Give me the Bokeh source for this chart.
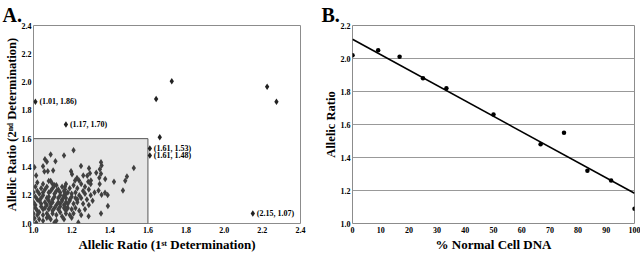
from bokeh.plotting import figure
from bokeh.layouts import row
from bokeh.models import PrintfTickFormatter, FixedTicker, ColumnDataSource, Title
from bokeh.embed import file_html
from bokeh.resources import INLINE
from bokeh.core.properties import value
import numpy as np

# ---------------- Panel A data ----------------
cluster_x = [1.06, 1.07, 1.115, 1.05, 1.005, 1.014, 1.057, 1.075, 1.103, 1.197, 1.202, 1.249, 1.291,
             1.354, 1.357, 1.348, 1.329, 1.296, 1.282, 1.261, 1.239, 1.218, 1.228, 1.301, 1.287, 1.354,
             1.345, 1.376, 1.422, 1.49, 1.481, 1.526, 1.469, 1.354, 1.39, 1.289, 1.235, 1.11, 1.005,
             1.014, 1.347, 1.341, 1.375, 1.357, 1.389, 1.21, 1.16, 1.09,
             1.02, 1.05, 1.09, 1.12, 1.17, 1.21, 1.25, 1.27, 1.30,
             1.01, 1.04, 1.07, 1.10, 1.13, 1.15, 1.19, 1.23, 1.26, 1.29,
             1.00, 1.02, 1.03, 1.05, 1.06, 1.08, 1.09, 1.11, 1.12, 1.14, 1.16, 1.17, 1.18, 1.20, 1.22,
             1.24, 1.27, 1.30, 1.32,
             1.01, 1.02, 1.04, 1.05, 1.07, 1.08, 1.10, 1.11, 1.13, 1.14, 1.15, 1.16, 1.17, 1.19, 1.20,
             1.22, 1.23, 1.25, 1.28, 1.31,
             1.00, 1.01, 1.03, 1.04, 1.06, 1.07, 1.08, 1.09, 1.10, 1.12, 1.13, 1.14, 1.15, 1.16, 1.17,
             1.18, 1.19, 1.21, 1.23, 1.26, 1.29,
             1.01, 1.02, 1.04, 1.05, 1.06, 1.08, 1.09, 1.10, 1.11, 1.13, 1.14, 1.16, 1.17, 1.18, 1.20,
             1.22, 1.24, 1.27,
             1.00, 1.02, 1.03, 1.05, 1.07, 1.08, 1.10, 1.12, 1.14, 1.15, 1.17, 1.19, 1.21, 1.25,
             1.03, 1.05, 1.07, 1.09, 1.12, 1.16, 1.20,
             1.165, 1.165, 1.16, 1.165, 1.17, 1.08, 1.10, 1.11]
cluster_y = [1.454, 1.436, 1.44, 1.405, 1.398, 1.34, 1.368, 1.37, 1.375, 1.37, 1.349, 1.407, 1.391,
             1.433, 1.41, 1.384, 1.358, 1.356, 1.337, 1.34, 1.304, 1.304, 1.321, 1.304, 1.295, 1.351,
             1.323, 1.314, 1.295, 1.333, 1.302, 1.393, 1.234, 1.07, 1.124, 1.052, 1.007, 1.007, 1.037,
             1.005, 1.279, 1.234, 1.218, 1.204, 1.201, 1.518, 1.48, 1.487,
             1.29, 1.28, 1.30, 1.27, 1.28, 1.27, 1.28, 1.26, 1.28,
             1.26, 1.25, 1.26, 1.25, 1.24, 1.26, 1.25, 1.25, 1.23, 1.24,
             1.22, 1.23, 1.21, 1.22, 1.24, 1.22, 1.23, 1.21, 1.23, 1.22, 1.23, 1.21, 1.22, 1.21, 1.22,
             1.20, 1.21, 1.20, 1.22,
             1.19, 1.17, 1.18, 1.20, 1.18, 1.19, 1.17, 1.19, 1.18, 1.20, 1.17, 1.19, 1.18, 1.17, 1.19,
             1.18, 1.17, 1.18, 1.17, 1.16,
             1.15, 1.13, 1.16, 1.14, 1.15, 1.13, 1.16, 1.14, 1.15, 1.13, 1.15, 1.14, 1.16, 1.13, 1.15,
             1.14, 1.16, 1.14, 1.15, 1.14, 1.13,
             1.11, 1.09, 1.12, 1.10, 1.11, 1.10, 1.12, 1.09, 1.11, 1.10, 1.12, 1.11, 1.09, 1.11, 1.10,
             1.11, 1.09, 1.10,
             1.07, 1.06, 1.08, 1.06, 1.07, 1.05, 1.07, 1.06, 1.08, 1.05, 1.07, 1.06, 1.07, 1.06,
             1.03, 1.02, 1.04, 1.03, 1.02, 1.03, 1.04,
             1.26, 1.24, 1.20, 1.12, 1.10, 1.30, 1.28, 1.27]

outlier_x = [1.01, 1.17, 1.643, 1.725, 1.662, 1.61, 1.61, 2.225, 2.274, 2.15]
outlier_y = [1.86, 1.70, 1.88, 2.005, 1.609, 1.53, 1.48, 1.967, 1.86, 1.07]

labeled_x = [1.01, 1.17, 1.61, 1.61, 2.15]
labeled_y = [1.86, 1.70, 1.53, 1.48, 1.07]

box_range = [1.0, 1.6]
ticks_a = [1.0, 1.2, 1.4, 1.6, 1.8, 2.0, 2.2, 2.4]

# ---------------- Panel B data ----------------
normal_pct = [0, 9.1, 16.7, 25, 33.3, 50, 66.7, 75, 83.3, 91.7, 100]
ratio_b = [2.02, 2.05, 2.01, 1.88, 1.82, 1.66, 1.48, 1.55, 1.32, 1.26, 1.09]
ticks_bx = [0, 10, 20, 30, 40, 50, 60, 70, 80, 90, 100]
ticks_by = [1.0, 1.2, 1.4, 1.6, 1.8, 2.0, 2.2]

SERIF = "Liberation Serif"
GRAY = "#8c8c8c"


def style(p, xt, yt, xlab, ylab, letter):
    p.outline_line_color = GRAY
    p.outline_line_width = 1
    for ax in (p.xaxis[0], p.yaxis[0]):
        ax.axis_line_color = None
        ax.major_tick_line_color = None
        ax.minor_tick_line_color = None
        ax.major_tick_out = 0
        ax.major_tick_in = 0
        ax.major_label_text_font = SERIF
        ax.major_label_text_font_style = "bold"
        ax.major_label_text_font_size = "8px"
        ax.major_label_text_color = "black"
        ax.axis_label_text_font = SERIF
        ax.axis_label_text_font_style = "bold"
        ax.axis_label_text_color = "black"
        ax.axis_label_text_line_height = 1.0
    p.xaxis[0].major_label_standoff = 3
    p.xaxis[0].axis_label_standoff = 1
    p.xaxis[0].axis_label_text_font_size = "13px"
    p.yaxis[0].major_label_standoff = 2
    p.yaxis[0].axis_label_standoff = 0
    p.yaxis[0].axis_label_text_font_size = "12.5px"
    p.xaxis[0].ticker = FixedTicker(ticks=xt)
    p.yaxis[0].ticker = FixedTicker(ticks=yt)
    p.xaxis[0].axis_label = xlab
    p.yaxis[0].axis_label = ylab
    p.background_fill_color = "white"
    p.border_fill_color = "white"
    p.xgrid.visible = False
    p.add_layout(Title(text=letter, align="left", offset=-31, standoff=0,
                       text_font=SERIF, text_font_style="bold", text_font_size="20px",
                       text_line_height=1.0, text_color="black"), "above")


# ---------------- Panel A ----------------
pa = figure(width=320, height=254, output_backend="svg", toolbar_location=None,
            x_range=(1.0, 2.4), y_range=(1.0, 2.4),
            min_border_left=33, min_border_right=20, min_border_top=24, min_border_bottom=31)
style(pa, ticks_a, ticks_a, "Allelic Ratio (1ˢᵗ Determination)", "Allelic Ratio (2ⁿᵈ Determination)", "A.")
pa.ygrid.visible = False
pa.xaxis[0].formatter = PrintfTickFormatter(format="%.1f")
pa.yaxis[0].formatter = PrintfTickFormatter(format="%.1f")

pa.quad(left=[box_range[0]], right=[box_range[1]], bottom=[box_range[0]], top=[box_range[1]],
        fill_color="#e6e6e6", line_color="#555555", line_width=1)
pa.scatter(cluster_x, cluster_y, marker="diamond", size=6.5, fill_color="#404040", line_color=None)
pa.scatter(outlier_x, outlier_y, marker="diamond", size=6.5, fill_color="#222222", line_color=None)

lab_src = ColumnDataSource(dict(x=labeled_x, y=labeled_y,
                                t=[f"({a:.2f}, {b:.2f})" for a, b in zip(labeled_x, labeled_y)]))
pa.text(x="x", y="y", text="t", source=lab_src, x_offset=4, text_baseline="middle",
        text_font=value(SERIF), text_font_style="bold", text_font_size="8px", text_color="black")

# ---------------- Panel B ----------------
pb = figure(width=320, height=254, output_backend="svg", toolbar_location=None,
            x_range=(0, 100), y_range=(1.0, 2.2),
            min_border_left=32, min_border_right=6, min_border_top=25, min_border_bottom=30)
style(pb, ticks_bx, ticks_by, "% Normal Cell DNA", "Allelic Ratio", "B.")
pb.ygrid.grid_line_color = "#999999"
pb.ygrid.grid_line_width = 1
pb.yaxis[0].formatter = PrintfTickFormatter(format="%.1f")

slope, intercept = np.polyfit(normal_pct, ratio_b, 1)
fit_x = [min(normal_pct), max(normal_pct)]
fit_y = [intercept + slope * v for v in fit_x]
pb.line(fit_x, fit_y, line_color="black", line_width=1.6)
pb.scatter(normal_pct, ratio_b, marker="circle", size=4.5, fill_color="black", line_color=None)

layout = row(pa, pb)
open("out.html", "w").write(file_html(layout, INLINE))
